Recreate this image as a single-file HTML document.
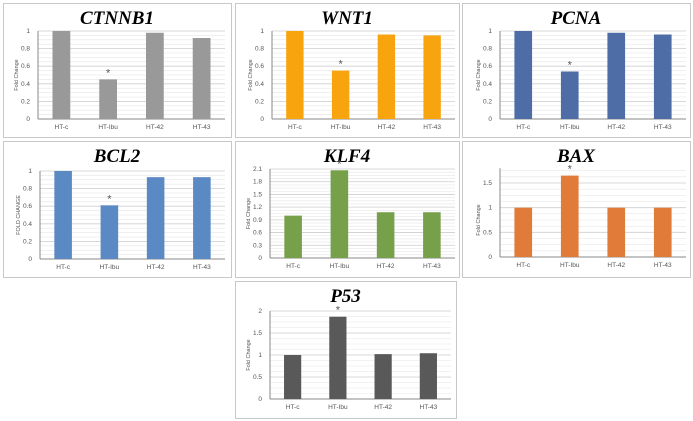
<!DOCTYPE html>
<html><head><meta charset="utf-8"><style>
body{margin:0;background:#fff;width:693px;height:421px;overflow:hidden}
svg{display:block}
</style></head><body>
<svg id="c" width="693" height="421" xmlns="http://www.w3.org/2000/svg"></svg>
<script>
const categories=["HT-c","HT-Ibu","HT-42","HT-43"];
const ctnnb1Values=[1,0.45,0.98,0.92];
const wnt1Values=[1,0.55,0.96,0.95];
const pcnaValues=[1,0.54,0.98,0.96];
const bcl2Values=[1,0.61,0.93,0.93];
const klf4Values=[1,2.07,1.08,1.08];
const baxValues=[1,1.65,1,1];
const p53Values=[1,1.87,1.02,1.04];
const ctnnb1Ticks=["0","0.2","0.4","0.6","0.8","1"];
const klf4Ticks=["0","0.3","0.6","0.9","1.2","1.5","1.8","2.1"];
const baxTicks=["0","0.5","1","1.5"];
const p53Ticks=["0","0.5","1","1.5","2"];
const sigIndex=[1];

const NS="http://www.w3.org/2000/svg";
const svg=document.getElementById('c');
function mk(tag,attrs,parent){const e=document.createElementNS(NS,tag);for(const k in attrs)e.setAttribute(k,attrs[k]);(parent||svg).appendChild(e);return e;}

const panels=[
 {name:"CTNNB1",vals:ctnnb1Values,ticks:ctnnb1Ticks,step:0.2,max:1,box:[3,3,228,134],ax:38,right:225,top:31,bot:119,color:"#999999",yt:"Fold Change"},
 {name:"WNT1",vals:wnt1Values,ticks:ctnnb1Ticks,step:0.2,max:1,box:[235,3,224,134],ax:272,right:455,top:31,bot:119,color:"#f7a40e",yt:"Fold Change"},
 {name:"PCNA",vals:pcnaValues,ticks:ctnnb1Ticks,step:0.2,max:1,box:[462,3,228,134],ax:500,right:686,top:31,bot:119,color:"#4e6da6",yt:"Fold Change"},
 {name:"BCL2",vals:bcl2Values,ticks:ctnnb1Ticks,step:0.2,max:1,box:[3,141,228,136],ax:40,right:225,top:171,bot:259,color:"#5b89c4",yt:"FOLD CHANGE"},
 {name:"KLF4",vals:klf4Values,ticks:klf4Ticks,step:0.3,max:2.1,box:[235,141,224,136],ax:270,right:455,top:169,bot:258,color:"#76a14a",yt:"Fold Change"},
 {name:"BAX",vals:baxValues,ticks:baxTicks,step:0.5,max:1.5,box:[462,141,228,136],ax:500,right:686,top:183,bot:257,color:"#e07b39",yt:"Fold Change"},
 {name:"P53",vals:p53Values,ticks:p53Ticks,step:0.5,max:2,box:[235,281,221,137],ax:270,right:451,top:311,bot:399,color:"#595959",yt:"Fold Change"}
];

panels.forEach(p=>{
 const key=p.name.toLowerCase();
 const g=mk('g',{});
 
 
 const [bx,by,bw,bh]=p.box;
 const frame=mk('rect',{x:bx+0.5,y:by+0.5,width:bw,height:bh,fill:"#fff",stroke:"#c8c8c8","stroke-width":1},g);
 
 
 const title=mk('text',{x:bx+bw/2,y:by+21,"text-anchor":"middle","font-family":"Liberation Serif, serif","font-style":"italic","font-weight":"bold","font-size":"19"},g);
 title.textContent=p.name;
 
 
 const y=v=>p.bot-(v/p.max)*(p.top-p.bot)*-1;
 const yv=v=>p.bot-(v/p.max)*(p.bot-p.top);
 // minor gridlines
 const minor=p.step/4;
 const maxV=(p.ticks.length-1)*p.step;
 const topPlot=yv(maxV+ (p.name==="BAX"?0.3:0));
 for(let v=0;v<=maxV+(p.name==="BAX"?0.3:0)+1e-9;v+=minor){
   mk('line',{x1:p.ax,x2:p.right,y1:yv(v),y2:yv(v),stroke:"#e6e6e6","stroke-width":0.6},g);
 }
 p.ticks.forEach((t,i)=>{
   const v=i*p.step;
   const gl=mk('line',{x1:p.ax,x2:p.right,y1:yv(v),y2:yv(v),stroke:"#d0d0d0","stroke-width":0.8},g);
   
   
   const tl=mk('text',{x:p.ax-8,y:yv(v)+2,"text-anchor":"end","font-family":"Liberation Sans, sans-serif","font-size":"6.5",fill:"#555"},g);
   tl.textContent=t;
   
   
 });
 const axl=mk('line',{x1:p.ax,x2:p.ax,y1:topPlot,y2:p.bot,stroke:"#888","stroke-width":1},g);
 
 
 const xl=mk('line',{x1:p.ax,x2:p.right,y1:p.bot,y2:p.bot,stroke:"#888","stroke-width":1},g);
 
 
 const yt=mk('text',{x:0,y:0,transform:`translate(${p.ax-20},${(p.top+p.bot)/2}) rotate(-90)`,"text-anchor":"middle","font-family":"Liberation Sans, sans-serif","font-size":"5.5",fill:"#555"},g);
 yt.textContent=p.yt;
 
 
 const band=(p.right-p.ax)/categories.length;
 categories.forEach((c,i)=>{
   const cx=p.ax+band*(i+0.5);
   const bw2=band*0.38;
   const v=p.vals[i];
   const bar=mk('rect',{x:cx-bw2/2,y:yv(v),width:bw2,height:p.bot-yv(v),fill:p.color},g);
   
   
   const xl2=mk('text',{x:cx,y:p.bot+10,"text-anchor":"middle","font-family":"Liberation Sans, sans-serif","font-size":"6.5",fill:"#555"},g);
   xl2.textContent=c;
   
   
   if(sigIndex.includes(i)){
     const s=mk('text',{x:cx,y:yv(v)-3,"text-anchor":"middle","font-family":"Liberation Sans, sans-serif","font-size":"11",fill:"#555"},g);
     s.textContent="*";
     
     
   }
 });
});
</script>
</body></html>
